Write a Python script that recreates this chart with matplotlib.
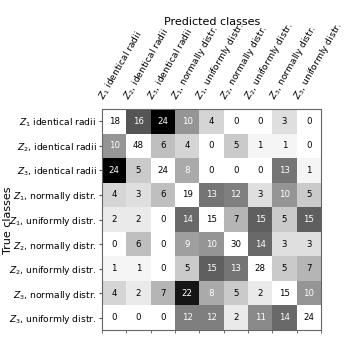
import numpy as np
import matplotlib
matplotlib.use("Agg")
import matplotlib.pyplot as plt
import matplotlib.transforms as mtransforms

classes = [r"$Z_1$ identical radii", r"$Z_2$, identical radii", r"$Z_3$, identical radii",
           r"$Z_1$, normally distr.", r"$Z_1$, uniformly distr.", r"$Z_2$, normally distr.",
           r"$Z_2$, uniformly distr.", r"$Z_3$, normally distr.", r"$Z_3$, uniformly distr."]

row1 = [18, 16, 24, 10, 4, 0, 0, 3, 0]
row2 = [10, 48, 6, 4, 0, 5, 1, 1, 0]
row3 = [24, 5, 24, 8, 0, 0, 0, 13, 1]
row4 = [4, 3, 6, 19, 13, 12, 3, 10, 5]
row5 = [2, 2, 0, 14, 15, 7, 15, 5, 15]
row6 = [0, 6, 0, 9, 10, 30, 14, 3, 3]
row7 = [1, 1, 0, 5, 15, 13, 28, 5, 7]
row8 = [4, 2, 7, 22, 8, 5, 2, 15, 10]
row9 = [0, 0, 0, 12, 12, 2, 11, 14, 24]

cm = np.array([row1, row2, row3, row4, row5, row6, row7, row8, row9])
n = len(classes)
off = cm.astype(float).copy()
np.fill_diagonal(off, 0)

fig = plt.figure(figsize=(3.46, 3.44), dpi=100)
ax = fig.add_axes([102/346, 1 - 330/344, 219/346, 221/344])
ax.imshow(off, cmap="gray_r", vmin=0, vmax=off.max(), aspect="auto", interpolation="nearest")

for i in range(n):
    for j in range(n):
        v = cm[i, j]
        col = "white" if (i != j and v >= 8) else "black"
        ax.text(j, i, str(v), ha="center", va="center", fontsize=6.2, color=col)

ax.set_xticks(np.arange(n))
ax.set_yticks(np.arange(n))
ax.set_xticklabels(classes, rotation=60, ha="left", rotation_mode="anchor", fontsize=6.6)
ax.set_yticklabels(classes, fontsize=6.6)
ax.xaxis.tick_top()
ax.tick_params(axis="x", which="major", length=0, pad=5)
ax.tick_params(axis="y", which="major", length=2.5, pad=1.5, color="#555555")
ax.set_xticks(np.arange(n + 1) - 0.5, minor=True)
ax.tick_params(axis="x", which="minor", bottom=True, top=False, length=2.5, color="#555555")
offset = mtransforms.ScaledTranslation(-7/100, 0, fig.dpi_scale_trans)
for lbl in ax.get_xticklabels():
    lbl.set_transform(lbl.get_transform() + offset)
for s in ax.spines.values():
    s.set_color("#666666")
    s.set_linewidth(0.8)

fig.text(212/346, 1 - 22/344, "Predicted classes", ha="center", va="center", fontsize=8)
fig.text(8/346, 1 - 220/344, "True classes", ha="center", va="center", rotation=90, fontsize=8)

fig.savefig("out.png", dpi=100)
